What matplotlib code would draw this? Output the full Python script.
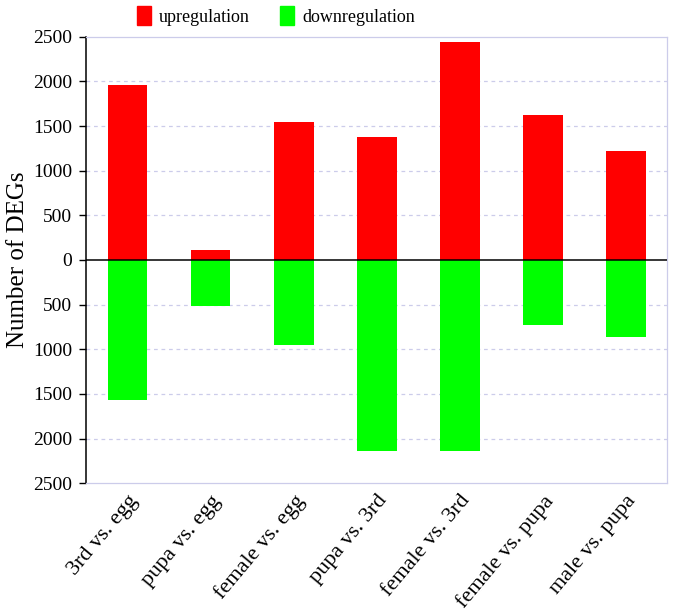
import numpy as np
import matplotlib
matplotlib.use("Agg")
import matplotlib.pyplot as plt
from matplotlib.patches import Patch

plt.rcParams['font.family'] = ['Liberation Serif', 'DejaVu Serif']

# data
comparisons = ["3rd vs. egg", "pupa vs. egg", "female vs. egg", "pupa vs. 3rd",
               "female vs. 3rd", "female vs. pupa", "male vs. pupa"]
upregulated = [1960, 110, 1540, 1380, 2445, 1625, 1215]
downregulated = [1565, 510, 955, 2135, 2135, 730, 860]

yticks = [-2500, -2000, -1500, -1000, -500, 0, 500, 1000, 1500, 2000, 2500]
ytick_labels = ["2500", "2000", "1500", "1000", "500", "0",
                "500", "1000", "1500", "2000", "2500"]

up_color = "#ff0000"
down_color = "#00ff00"
grid_color = "#ccccea"

fig = plt.figure(figsize=(6.73, 6.14), dpi=100)
ax = fig.add_axes([86 / 673, 1 - 483.3 / 614, (667.3 - 86) / 673, (483.3 - 36.7) / 614])

x = np.arange(len(comparisons))
ax.bar(x, upregulated, width=0.48, color=up_color, zorder=3)
ax.bar(x, [-v for v in downregulated], width=0.48, color=down_color, zorder=3)

ax.set_xlim(-0.5, len(comparisons) - 0.5)
ax.set_ylim(-2500, 2500)
ax.set_yticks(yticks)
ax.set_yticklabels(ytick_labels, fontsize=14)
ax.set_xticks(x)
ax.set_xticklabels(comparisons, rotation=50, ha='right', rotation_mode='anchor',
                   fontsize=16)
ax.tick_params(axis='x', length=0, pad=6)
ax.tick_params(axis='y', length=5, width=1, direction='out', pad=5)

# gridlines and frame
for v in yticks[1:-1]:
    if v != 0:
        ax.axhline(v, color=grid_color, lw=0.9, ls=(0, (3, 3)), zorder=1)
ax.axhline(0, color='black', lw=1.1, zorder=4)
for side in ['top', 'bottom', 'right']:
    ax.spines[side].set_color(grid_color)
    ax.spines[side].set_linestyle((0, (1, 1)))
    ax.spines[side].set_linewidth(0.9)
ax.spines['left'].set_linewidth(1.1)

ax.set_ylabel("Number of DEGs", fontsize=18, labelpad=3)

handles = [Patch(color=up_color, label="upregulation"),
           Patch(color=down_color, label="downregulation")]
fig.legend(handles=handles, loc='center', bbox_to_anchor=(276 / 673, 1 - 16 / 614),
           ncol=2, frameon=False, fontsize=13, handlelength=0.75, handleheight=1.2,
           handletextpad=0.45, columnspacing=1.7)

fig.savefig("out.png", dpi=100)
